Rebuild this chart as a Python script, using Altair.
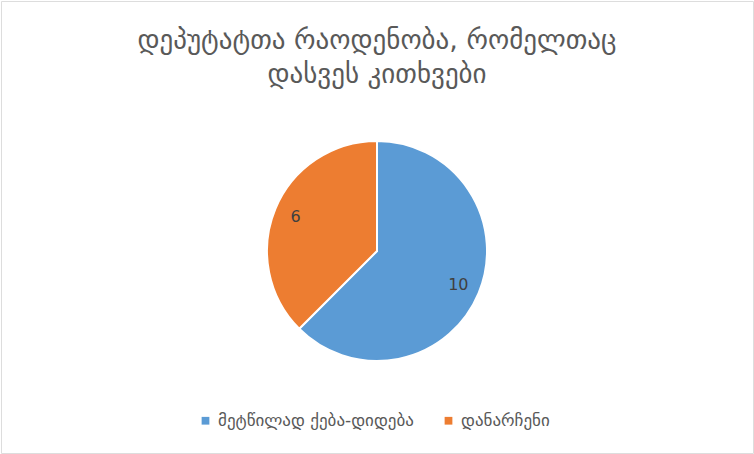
import altair as alt
import pandas as pd

# Number of deputies who were asked questions, by type of question
categories = ["მეტწილად ქება-დიდება", "დანარჩენი"]
counts = [10, 6]
colors = ["#5B9BD5", "#ED7D31"]

df = pd.DataFrame({"category": categories, "count": counts, "order": [0, 1]})

W, H = 752, 452
cx, cy, R = 376, 250, 110

base = alt.Chart(df).encode(
    theta=alt.Theta("count:Q", stack=True),
    order=alt.Order("order:Q"),
)

pie = base.mark_arc(outerRadius=R, stroke="white", strokeWidth=2).encode(
    x=alt.value(cx),
    y=alt.value(cy),
    color=alt.Color(
        "category:N",
        scale=alt.Scale(domain=categories, range=colors),
        sort=categories,
        legend=alt.Legend(
            title=None,
            orient="none",
            direction="horizontal",
            legendX=196,
            legendY=411,
            symbolType="square",
            symbolSize=60,
            symbolStrokeWidth=0,
            labelFont="DejaVu Sans",
            labelFontSize=17,
            labelColor="#595959",
            labelLimit=0,
            columnPadding=26,
        ),
    ),
)

labels = base.mark_text(
    radius=88, fontSize=16, font="DejaVu Sans", color="#404040"
).encode(
    x=alt.value(cx),
    y=alt.value(cy),
    text=alt.Text("count:Q"),
)

chart = (
    alt.layer(pie, labels)
    .properties(
        width=W,
        height=H,
        autosize=alt.AutoSizeParams(type="none"),
        padding=1,
        title=alt.TitleParams(
            text=["დეპუტატთა რაოდენობა, რომელთაც", "დასვეს კითხვები"],
            font="DejaVu Sans",
            fontSize=27,
            fontWeight="normal",
            color="#595959",
            anchor="middle",
            baseline="alphabetic",
            offset=-109,
            lineHeight=34,
        ),
    )
    .configure_view(stroke="#D9D9D9", strokeWidth=2)
    .configure(background="white")
)

chart.save("out.html", embed_options={"renderer": "svg", "actions": False})
